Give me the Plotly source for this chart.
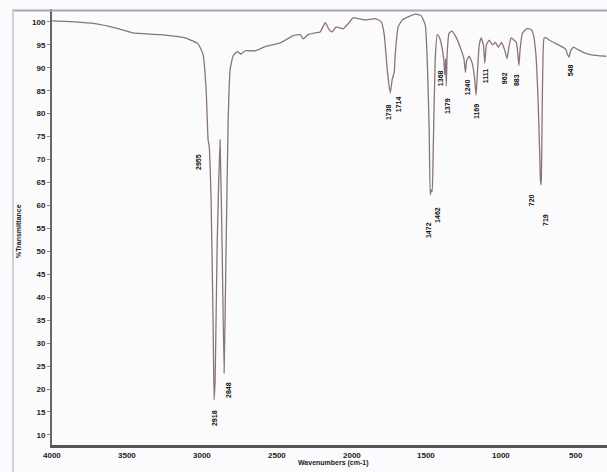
import plotly.graph_objects as go

# Spectrum: wavenumber (cm-1) and % transmittance
wavenumber = [4000, 3846, 3713, 3579, 3459, 3279, 3112, 3025, 2991, 2971, 2958, 2951,
              2938, 2924, 2918, 2911, 2898, 2878, 2864, 2851, 2838, 2824, 2811, 2791,
              2764, 2737, 2711, 2644, 2577, 2477, 2390, 2343, 2323, 2290, 2243, 2210,
              2176, 2150, 2130, 2103, 2056, 2023, 1989, 1956, 1909, 1842, 1802, 1782,
              1762, 1742, 1729, 1715, 1709, 1689, 1662, 1622, 1575, 1535, 1508, 1495,
              1482, 1475, 1468, 1462, 1455, 1442, 1428, 1415, 1400, 1385, 1378, 1372,
              1368, 1362, 1350, 1330, 1300, 1270, 1250, 1240, 1232, 1215, 1195, 1180,
              1169, 1160, 1148, 1135, 1120, 1111, 1100, 1080, 1060, 1040, 1020, 1000,
              985, 975, 962, 950, 935, 915, 900, 890, 883, 875, 860, 830, 800, 785,
              770, 755, 745, 740, 736, 733, 728, 722, 715, 700, 680, 650, 620, 590,
              570, 560, 548, 540, 520, 490, 450, 400, 300]
transmittance = [100.2, 100.0, 99.6, 98.7, 97.6, 97.2, 96.5, 95.2, 92.8, 85.2, 74.3, 73.0,
                 61.2, 32.9, 17.6, 22.0, 50.3, 74.3, 50.3, 23.5, 50.3, 78.6, 89.5, 92.6,
                 93.5, 93.0, 93.7, 93.7, 94.6, 95.4, 97.0, 97.2, 96.3, 97.2, 97.6, 97.8,
                 99.8, 98.3, 97.8, 98.9, 98.5, 99.6, 100.9, 100.7, 100.4, 100.7, 100.0, 97.2,
                 89.5, 84.5, 87.4, 89.1, 92.8, 98.9, 100.4, 101.1, 101.7, 101.3, 99.3, 91.7,
                 76.5, 62.3, 63.4, 63.0, 72.1, 91.7, 97.2, 96.7, 95.0, 92.0, 88.5, 92.0,
                 86.0, 93.0, 97.5, 98.0, 96.5, 94.0, 92.0, 89.0, 91.5, 92.5, 91.0, 88.0,
                 84.0, 89.0, 95.0, 96.5, 95.0, 91.0, 95.0, 96.0, 95.0, 95.5, 94.5, 95.5,
                 94.5, 93.5, 92.0, 94.5, 96.5, 96.0, 95.5, 93.0, 90.5, 94.0, 97.5, 98.5,
                 98.3, 97.0, 93.0, 83.0, 72.0, 66.0, 64.5, 66.0, 80.0, 93.0, 96.5, 96.5,
                 96.0, 95.5, 95.0, 94.5, 94.0, 93.0, 92.3, 93.5, 94.5, 94.0, 93.3, 92.8,
                 92.5]

# Peak labels
peak_labels = ["2955", "2918", "2848", "1738", "1714", "1472", "1462", "1368", "1379",
               "1240", "1169", "1111", "962", "883", "720", "719", "548"]
# label anchor (wavenumber, %T) of each label
label_x = [3018, 2911, 2818, 1755, 1689, 1488, 1428, 1401, 1355, 1228, 1161, 1108,
           974, 900, 794, 707, 540]
label_y = [69.5, 13.7, 19.8, 80.4, 82.1, 54.7, 58.0, 87.8, 81.7, 85.8, 80.4, 88.2,
           87.8, 87.4, 61.2, 56.9, 89.5]

y_ticks = list(range(10, 101, 5))
x_ticks = [4000, 3500, 3000, 2500, 2000, 1500, 1000, 500]

FONT = "Liberation Sans, Arial"

fig = go.Figure()
fig.add_trace(go.Scatter(x=wavenumber, y=transmittance, mode="lines",
                         line=dict(color="#8a747a", width=1.3, shape="spline", smoothing=0.4),
                         hoverinfo="x+y", showlegend=False))

for t, x, y in zip(peak_labels, label_x, label_y):
    fig.add_annotation(x=x, y=y, text="<b>" + t + "</b>", showarrow=False, textangle=-90,
                       font=dict(family=FONT, size=7, color="#111"))

# x tick labels placed close under the axis line
for v in x_ticks:
    fig.add_annotation(x=v, xref="x", yref="paper", y=-0.023, yanchor="middle",
                       text="<b>%d</b>" % v, showarrow=False,
                       font=dict(family=FONT, size=8, color="#222"))

font = dict(family=FONT, size=8, color="#222")
fig.update_layout(
    width=607, height=472,
    margin=dict(l=52, r=0, t=9, b=27),
    paper_bgcolor="#fbfbfd", plot_bgcolor="#fbfbfd",
    showlegend=False,
    xaxis=dict(range=[4000, 295], tickmode="array", tickvals=x_ticks,
               showticklabels=False,
               showgrid=False, zeroline=False, showline=True, linecolor="#555", linewidth=2.5,
               ticks=""),
    yaxis=dict(range=[7.8, 102.8], tickmode="array", tickvals=y_ticks,
               ticktext=["<b>%d</b>" % v for v in y_ticks], tickfont=font,
               showgrid=False, zeroline=False, showline=True, linecolor="#666", linewidth=2,
               ticks="outside", ticklen=3, tickcolor="#888"),
    shapes=[
        dict(type="line", xref="paper", yref="y", x0=-0.0703, x1=1.0, y0=102.5, y1=102.5,
             line=dict(color="#a8a8ae", width=2), layer="above"),
        dict(type="line", xref="paper", yref="paper", x0=-0.0703, x1=-0.0703, y0=-0.062, y1=1.0,
             line=dict(color="#cfcfd4", width=2)),
    ],
    annotations=list(fig.layout.annotations) + [
        dict(xref="paper", yref="paper", x=-0.06, xanchor="center", y=0.49, yanchor="middle",
             text="<b>%Transmittance</b>",
             showarrow=False, textangle=-90, font=dict(family=FONT, size=7, color="#222")),
        dict(xref="paper", yref="paper", x=0.508, xanchor="center", y=-0.042, yanchor="middle",
             text="<b>Wavenumbers (cm-1)</b>", showarrow=False,
             font=dict(family=FONT, size=7, color="#222")),
    ],
)

fig.write_html("out.html", config={"displayModeBar": False},
               post_script="document.body.style.margin='0';document.body.style.background='#fbfbfd';")
